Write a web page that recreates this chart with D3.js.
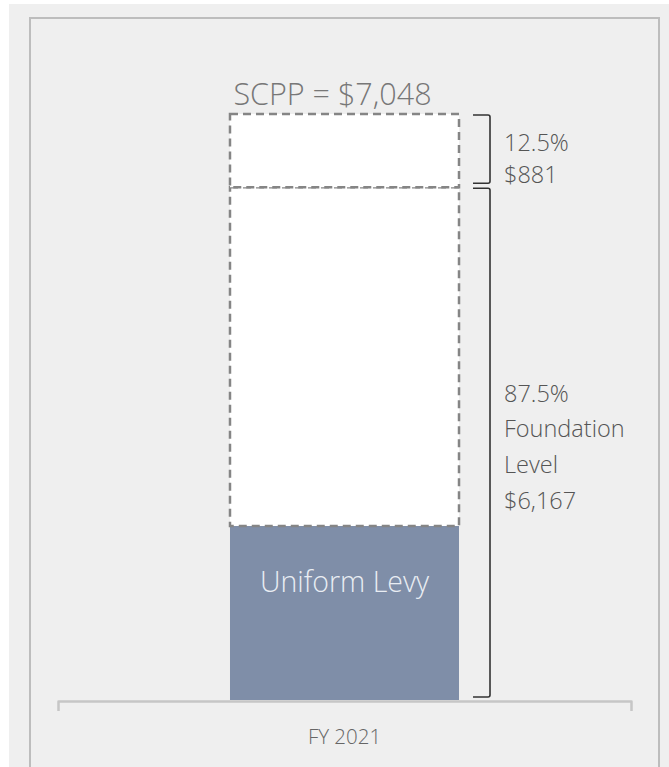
<!DOCTYPE html>
<html>
<head>
<meta charset="utf-8">
<script src="https://cdn.jsdelivr.net/npm/d3@7"></script>
<style>
  html, body { margin: 0; padding: 0; background: #ffffff; }
  svg { display: block; font-family: "Open Sans", "Segoe UI", sans-serif; }
</style>
</head>
<body>
<div class="chart"></div>
<script>
// ---- data
const categories = ["FY 2021"];
const uniformLevy = [2093];
const foundationLevel = [6167];
const scpp = [7048];
const topUp = [881];
const topLabels = ["12.5%", "$881"];
const foundationLabels = ["87.5%", "Foundation", "Level", "$6,167"];
const scppLabel = "SCPP = $7,048";
const levyLabel = "Uniform Levy";

// ---- svg + background panels
const W = 669, H = 767;
const svg = d3.select(".chart")
  .append("svg")
    .attr("width", W)
    .attr("height", H);

svg.append("rect")
  .attr("x", 9).attr("y", 4)
  .attr("width", W - 9).attr("height", H - 4)
  .attr("fill", "#efefef");

svg.append("rect")
  .attr("x", 30).attr("y", 18)
  .attr("width", 629).attr("height", H)
  .attr("fill", "none")
  .attr("stroke", "#bdbdbd")
  .attr("stroke-width", 2);

// ---- scales
const x = d3.scaleBand()
  .domain(categories)
  .range([58, 631])
  .paddingInner(0)
  .paddingOuter(0.751);

const y = d3.scaleLinear()
  .domain([0, d3.max(scpp)])
  .range([700, 114]);

// ---- axis
const axis = svg.append("g")
  .attr("transform", "translate(0,701)")
  .call(d3.axisBottom(x).tickSizeInner(0).tickSizeOuter(10).tickPadding(28));
axis.select(".domain")
  .attr("stroke", "#c6c6c6")
  .attr("stroke-width", 2.5)
  .attr("stroke-linejoin", "round")
  .attr("fill", "none");
axis.selectAll("text")
  .attr("fill", "#666")
  .style("font-size", "20.5px")
  .style("font-family", "\"Open Sans\", sans-serif")
  .style("font-weight", 300);

// ---- bars
const rows = categories.map((c, i) => ({
  cat: c, levy: uniformLevy[i], found: foundationLevel[i], total: scpp[i], top: topUp[i]
}));

// uniform levy (solid)
svg.selectAll(".levy")
  .data(rows).enter()
  .append("rect")
    .attr("class", "levy")
    .attr("x", d => x(d.cat))
    .attr("y", d => y(d.levy))
    .attr("width", x.bandwidth())
    .attr("height", d => y(0) - y(d.levy))
    .attr("fill", "#7f8ea8");

// foundation remainder (dashed)
svg.selectAll(".found")
  .data(rows).enter()
  .append("rect")
    .attr("class", "found")
    .attr("x", d => x(d.cat))
    .attr("y", d => y(d.found))
    .attr("width", x.bandwidth())
    .attr("height", d => y(d.levy) - y(d.found))
    .attr("fill", "#fff")
    .attr("stroke", "#858585")
    .attr("stroke-width", 2.5)
    .attr("stroke-dasharray", "8,5");

// top 12.5% (dashed)
svg.selectAll(".top")
  .data(rows).enter()
  .append("rect")
    .attr("class", "top")
    .attr("x", d => x(d.cat))
    .attr("y", d => y(d.total))
    .attr("width", x.bandwidth())
    .attr("height", d => y(d.found) - y(d.total))
    .attr("fill", "#fff")
    .attr("stroke", "#858585")
    .attr("stroke-width", 2.5)
    .attr("stroke-dasharray", "8,5");

// ---- text in / over bar
rows.forEach(d => {
  const cx = x(d.cat) + x.bandwidth() / 2;
  svg.append("text")
    .attr("x", cx - 12)
    .attr("y", y(d.total) - 9)
    .attr("text-anchor", "middle")
    .attr("fill", "#777")
    .style("font-size", "30.5px")
    .style("font-weight", 300)
    .text(scppLabel);

  svg.append("text")
    .attr("x", cx)
    .attr("y", (y(d.levy) + y(0)) / 2 - 31)
    .attr("dy", "0.35em")
    .attr("text-anchor", "middle")
    .attr("fill", "#e9edf3")
    .style("font-size", "28.5px")
    .style("font-weight", 300)
    .text(levyLabel);

  // ---- braces
  const bx = x(d.cat) + x.bandwidth();
  const brace = (y0, y1) => {
    const p = d3.path();
    p.moveTo(bx + 14, y0);
    p.lineTo(bx + 29, y0);
    p.quadraticCurveTo(bx + 31, y0, bx + 31, y0 + 2);
    p.lineTo(bx + 31, y1 - 2);
    p.quadraticCurveTo(bx + 31, y1, bx + 29, y1);
    p.lineTo(bx + 14, y1);
    svg.append("path")
      .attr("d", p.toString())
      .attr("fill", "none")
      .attr("stroke", "#333")
      .attr("stroke-width", 1.6);
  };
  brace(y(d.total) + 1, y(d.found) - 4);
  brace(y(d.found) + 1, y(0) - 3);

  // ---- side labels
  const lx = bx + 45;
  const topMid = (y(d.total) + y(d.found)) / 2 + 8;
  svg.append("g").selectAll("text")
    .data(topLabels).enter()
    .append("text")
      .attr("x", lx)
      .attr("y", (t, i) => topMid + (i - 0.5) * 32)
      .attr("dy", "0.35em")
      .attr("fill", "#555")
      .style("font-size", "23.5px")
      .style("font-weight", 300)
      .text(t => t);

  const fMid = 447;
  svg.append("g").selectAll("text")
    .data(foundationLabels).enter()
    .append("text")
      .attr("x", lx)
      .attr("y", (t, i) => fMid + (i - 1.5) * 35.7)
      .attr("dy", "0.35em")
      .attr("fill", "#555")
      .style("font-size", "23.5px")
      .style("font-weight", 300)
      .text(t => t);
});
</script>
</body>
</html>
